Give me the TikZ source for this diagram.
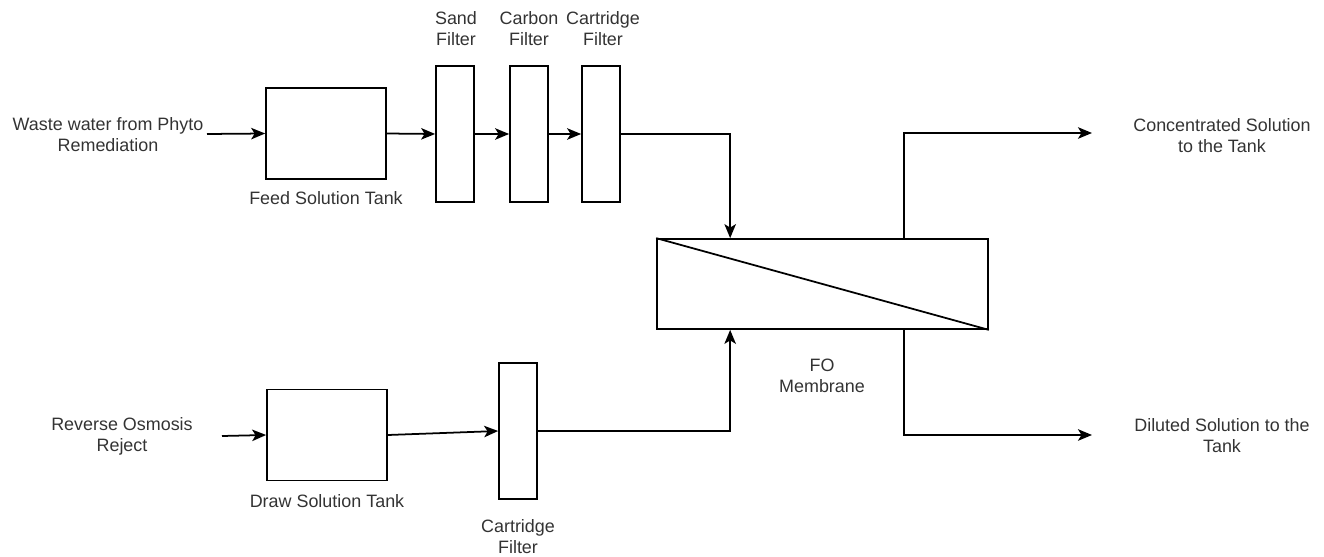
\documentclass[tikz,border=0pt]{standalone}
\usepackage{fontspec}
\setmainfont{Liberation Sans}
\usepackage{xcolor}
\usetikzlibrary{arrows.meta,positioning,calc}
\definecolor{txtgray}{HTML}{333333}

\begin{document}
\begin{tikzpicture}[
  x=0.02cm, y=-0.02cm,
  tank/.style={draw, line width=1pt, minimum width=2.4cm, minimum height=1.82cm, inner sep=0pt},
  filt/.style={draw, line width=1pt, minimum width=0.76cm, minimum height=2.72cm, inner sep=0pt},
  lbl/.style={align=center, text=txtgray, inner sep=0pt, font=\fontsize{10.2}{12}\selectfont},
  ar/.style={-{Stealth[length=2.8mm, width=2.3mm, inset=0.7mm]}, line width=1pt},
  ln/.style={line width=1pt}
]
\useasboundingbox (0,0) rectangle (1324,557);

% feed line
\node[lbl] (waste) at (108,134.5) {Waste water from Phyto\\ Remediation};
\node[tank] (ftank) at (326,133.5) {};
\node[lbl] (ftanklbl) at (326,198) {Feed Solution Tank};
\node[filt] (sand) at (455,134) {};
\node[filt] (carb) at (529,134) {};
\node[filt] (cart) at (601,134) {};
\node[lbl] (sandlbl) at (456,29) {Sand\\ Filter};
\node[lbl] (carblbl) at (529,29) {Carbon\\ Filter};
\node[lbl] (cartlbl) at (603,29) {Cartridge\\ Filter};

% draw line
\node[lbl] (ro) at (122,436) {Reverse Osmosis\\ Reject};
\node[tank] (dtank) at (327,435) {};
\node[lbl] (dtanklbl) at (327,501) {Draw Solution Tank};
\node[filt] (cart2) at (518,431) {};
\node[lbl] (cart2lbl) at (518,537) {Cartridge\\ Filter};

% membrane
\node[draw, line width=1pt, minimum width=6.62cm, minimum height=1.8cm, inner sep=0pt]
  (mem) at (822.5,284) {};
\draw[ln] (mem.north west) -- (mem.south east);
\node[lbl] (memlbl) at (822,376) {FO\\ Membrane};

% outlets
\node[lbl] (conc) at (1222,136) {Concentrated Solution\\ to the Tank};
\node[lbl] (dil) at (1222,436) {Diluted Solution to the\\ Tank};

\coordinate (win) at (207,134);
\coordinate (roin) at (222,436);
\coordinate (concend) at (1092,133);
\coordinate (dilend) at (1092,435);

\draw[ar] (win) -- (ftank.west);
\draw[ar] (ftank.east) -- (sand.west);
\draw[ar] (sand.east) -- (carb.west);
\draw[ar] (carb.east) -- (cart.west);
\draw[ar] (cart.east) -| ($(mem.north west)+(74,0)$);

\draw[ar] (roin) -- (dtank.west);
\draw[ar] (dtank.east) -- (cart2.west);
\draw[ar] (cart2.east) -| ($(mem.south west)+(74,0)$);

\draw[ar] ($(mem.north west)+(248,0)$) |- (concend);
\draw[ar] ($(mem.south west)+(248,0)$) |- (dilend);
\end{tikzpicture}
\end{document}
